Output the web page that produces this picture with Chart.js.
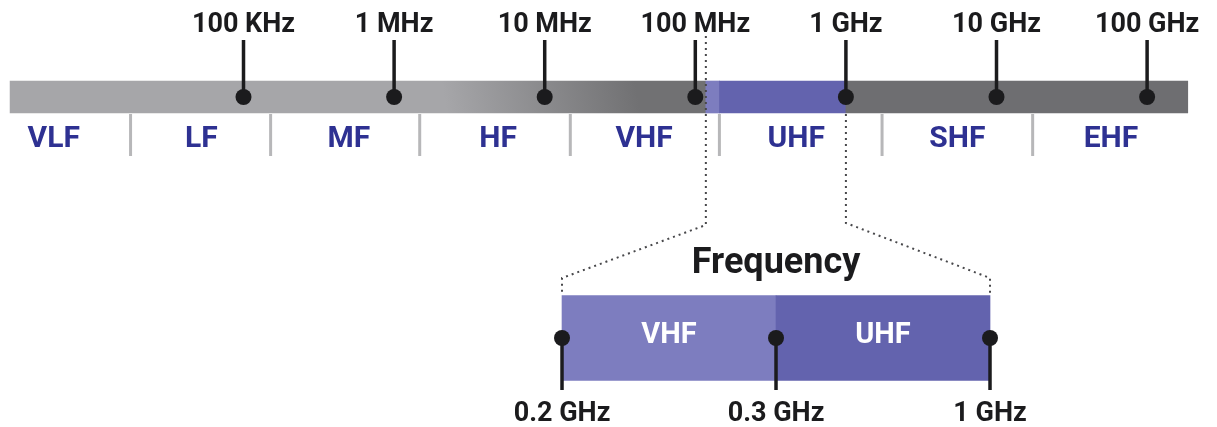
<!DOCTYPE html>
<html>
<head>
<meta charset="utf-8">
<title>Espectro de frecuencias</title>
<script src="https://cdn.jsdelivr.net/npm/chart.js@4.4.1/dist/chart.umd.min.js"></script>
<style>
  html, body { margin: 0; padding: 0; background: #ffffff; }
  #wrap { position: relative; width: 1217px; height: 427px; }
</style>
</head>
<body>
<div id="wrap"><canvas id="espectro"></canvas></div>
<script>
// Marcas de la barra superior (exponente de la frecuencia en Hz)
var tickLabels = ['100 KHz', '1 MHz', '10 MHz', '100 MHz', '1 GHz', '10 GHz', '100 GHz'];
var tickValues = [5, 6, 7, 8, 9, 10, 11];

// Bandas: nombre, centro del texto y separadores (misma escala)
var bandNames = ['VLF', 'LF', 'MF', 'HF', 'VHF', 'UHF', 'SHF', 'EHF'];
var bandCenters = [3.74, 4.72, 5.70, 6.69, 7.66, 8.67, 9.74, 10.76];
var bandDividers = [4.25, 5.18, 6.17, 7.17, 8.16, 9.24, 10.24];

// Tramos de la barra superior [inicio, fin]
var barSegments = [[3.45, 8.07], [8.07, 8.16], [8.16, 9.0], [9.0, 11.27]];

// Detalle inferior (posiciones 0, 1, 2 de las marcas)
var zoomLabels = ['0.2 GHz', '0.3 GHz', '1 GHz'];
var zoomValues = [0, 1, 2];
var zoomBands = ['VHF', 'UHF'];
var zoomSegments = [[0, 1], [1, 2]];
// Donde nacen las lineas punteadas en la barra superior
var zoomFrom = [8.07, 9.0];

var INK = '#1b1b1d';
var BLUE = '#2e3192';

// Degradado gris de la parte izquierda
function barColor(context) {
    var chart = context.chart;
    var colors = [null, '#7d7dbf', '#6363ae', '#6e6e71'];
    if (context.dataIndex !== 0) {
        return colors[context.dataIndex];
    }
    if (!chart.chartArea) {
        return '#a6a6a9';
    }
    var x = chart.scales.x;
    var y = chart.scales.y;
    var g = chart.ctx.createLinearGradient(x.getPixelForValue(6.35), y.getPixelForValue(0) + 16,
                                           x.getPixelForValue(7.6), y.getPixelForValue(0) - 16);
    g.addColorStop(0, '#a6a6a9');
    g.addColorStop(1, '#717173');
    return g;
}

function drawText(ctx, text, x, y, font, color) {
    ctx.font = font;
    ctx.fillStyle = color;
    ctx.textAlign = 'center';
    ctx.textBaseline = 'alphabetic';
    ctx.fillText(text, x, y);
}

var diagramPlugin = {
    id: 'diagram',
    // Palitos de las marcas: encima de las barras, debajo de los puntos
    afterDatasetDraw: function(chart, args) {
        var ctx = chart.ctx;
        var y = chart.scales.y;
        ctx.save();
        ctx.strokeStyle = INK;
        ctx.lineWidth = 3.5;
        if (args.index === 0) {
            tickValues.forEach(function(v) {
                var px = chart.scales.x.getPixelForValue(v);
                ctx.beginPath();
                ctx.moveTo(px, 40);
                ctx.lineTo(px, y.getPixelForValue(0));
                ctx.stroke();
            });
        } else if (args.index === 1) {
            zoomValues.forEach(function(v) {
                var px = chart.scales.x2.getPixelForValue(v);
                ctx.beginPath();
                ctx.moveTo(px, y.getPixelForValue(1));
                ctx.lineTo(px, 390);
                ctx.stroke();
            });
        }
        ctx.restore();
    },
    afterDatasetsDraw: function(chart) {
        var ctx = chart.ctx;
        var x = chart.scales.x;
        var x2 = chart.scales.x2;
        ctx.save();

        // Separadores de bandas
        ctx.strokeStyle = '#b7b7b9';
        ctx.lineWidth = 3;
        bandDividers.forEach(function(v) {
            var px = x.getPixelForValue(v);
            ctx.beginPath();
            ctx.moveTo(px, 114);
            ctx.lineTo(px, 156);
            ctx.stroke();
        });

        // Textos
        tickValues.forEach(function(v, i) {
            drawText(ctx, tickLabels[i], x.getPixelForValue(v), 32, 'bold 27px Roboto', INK);
        });
        bandCenters.forEach(function(v, i) {
            drawText(ctx, bandNames[i], x.getPixelForValue(v), 147, 'bold 30px Roboto', BLUE);
        });
        zoomValues.forEach(function(v, i) {
            drawText(ctx, zoomLabels[i], x2.getPixelForValue(v), 421, 'bold 27px Roboto', INK);
        });
        zoomSegments.forEach(function(s, i) {
            drawText(ctx, zoomBands[i], x2.getPixelForValue((s[0] + s[1]) / 2), 343, 'bold 29px Roboto', '#ffffff');
        });
        drawText(ctx, 'Frequency', x2.getPixelForValue(1), 273, 'bold 36px Roboto', INK);

        // Lineas punteadas hacia el detalle
        ctx.strokeStyle = '#48484b';
        ctx.lineWidth = 2;
        ctx.setLineDash([2, 4]);
        var left = x.getPixelForValue(zoomFrom[0]);
        var right = x.getPixelForValue(zoomFrom[1]);
        var zl = x2.getPixelForValue(zoomValues[0]);
        var zr = x2.getPixelForValue(zoomValues[zoomValues.length - 1]);
        ctx.beginPath();
        ctx.moveTo(left, 36);
        ctx.lineTo(left, 225);
        ctx.lineTo(zl, 278);
        ctx.lineTo(zl, 293);
        ctx.stroke();
        ctx.beginPath();
        ctx.moveTo(right, 114);
        ctx.lineTo(right, 223);
        ctx.lineTo(zr, 278);
        ctx.lineTo(zr, 293);
        ctx.stroke();

        ctx.restore();
    }
};

var ctx = document.getElementById('espectro').getContext('2d');

var espectro = new Chart(ctx, {
    type: 'bar',
    data: {
        datasets: [{
            type: 'bar',
            indexAxis: 'y',
            xAxisID: 'x',
            yAxisID: 'y',
            data: barSegments.map(function(s) { return { x: s, y: 0 }; }),
            backgroundColor: barColor,
            borderWidth: 0,
            barThickness: 32,
            grouped: false,
            clip: false,
            order: 1
        }, {
            type: 'bar',
            indexAxis: 'y',
            xAxisID: 'x2',
            yAxisID: 'y',
            data: zoomSegments.map(function(s) { return { x: s, y: 1 }; }),
            backgroundColor: ['#7d7dbf', '#6363ae'],
            borderWidth: 0,
            barThickness: 85,
            grouped: false,
            clip: false,
            order: 1
        }, {
            type: 'scatter',
            xAxisID: 'x',
            yAxisID: 'y',
            data: tickValues.map(function(v) { return { x: v, y: 0 }; }),
            pointRadius: 8,
            pointBackgroundColor: INK,
            pointBorderWidth: 0,
            clip: false,
            order: 0
        }, {
            type: 'scatter',
            xAxisID: 'x2',
            yAxisID: 'y',
            data: zoomValues.map(function(v) { return { x: v, y: 1 }; }),
            pointRadius: 8,
            pointBackgroundColor: INK,
            pointBorderWidth: 0,
            clip: false,
            order: 0
        }]
    },
    options: {
        responsive: true,
        maintainAspectRatio: false,
        animation: false,
        events: [],
        layout: { padding: 0, autoPadding: false },
        plugins: {
            legend: { display: false },
            tooltip: { enabled: false }
        },
        scales: {
            // offset false: si no, la escala lineal se ensancha media marca por lado
            x: { type: 'linear', axis: 'x', display: false, offset: false, beginAtZero: false, min: 3.3831, max: 11.4641 },
            x2: { type: 'linear', axis: 'x', display: false, offset: false, beginAtZero: false, min: -2.6262, max: 3.0607 },
            y: { type: 'linear', axis: 'y', display: false, offset: false, beginAtZero: false, reverse: true, min: -0.4025, max: 1.3693 }
        }
    },
    plugins: [diagramPlugin]
});
</script>
</body>
</html>
